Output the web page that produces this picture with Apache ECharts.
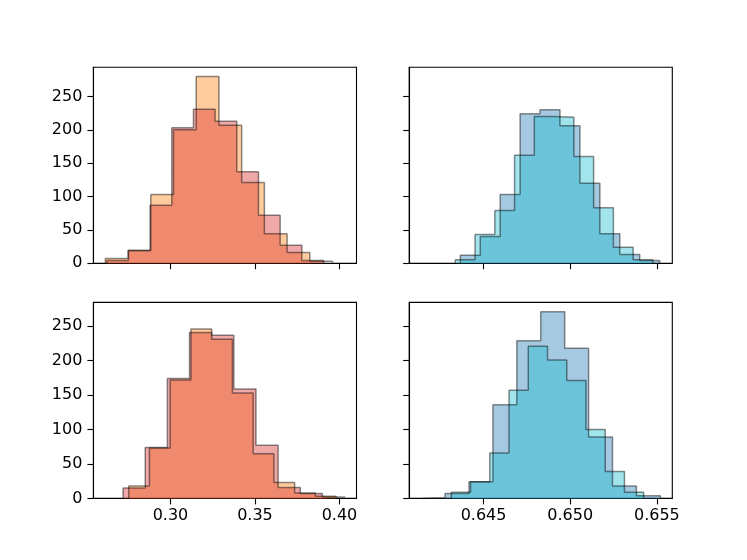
<!DOCTYPE html>
<html>
<head>
<meta charset="utf-8">
<script src="https://cdn.jsdelivr.net/npm/echarts@6/dist/echarts.min.js"></script>
<style>
  html, body { margin: 0; padding: 0; background: #fff; }
  #chart { width: 747px; height: 560px; }
</style>
</head>
<body>
<div id="chart"></div>
<script>
// tick labels
var leftXTicks = [0.30, 0.35, 0.40];
var rightXTicks = [0.645, 0.650, 0.655];
var yTicks = [0, 50, 100, 150, 200, 250];

// histograms: [first edge, last edge] and the 10 bin counts
var tlOrangeRange = [0.26145, 0.39591];
var tlOrangeCounts = [7, 19, 103, 200, 280, 207, 121, 44, 16, 3];
var tlRedRange = [0.26228, 0.39057];
var tlRedCounts = [4, 19, 87, 203, 231, 213, 137, 72, 27, 4];

var trBlueRange = [0.64366, 0.65516];
var trBlueCounts = [12, 40, 103, 224, 230, 206, 120, 44, 13, 4];
var trCyanRange = [0.64337, 0.65477];
var trCyanCounts = [5, 43, 79, 162, 220, 219, 160, 83, 24, 5];

var blOrangeRange = [0.27527, 0.39804];
var blOrangeCounts = [18, 73, 172, 246, 231, 153, 65, 23, 8, 3];
var blRedRange = [0.27195, 0.40302];
var blRedCounts = [15, 74, 174, 241, 237, 159, 77, 16, 7, 2];

var brBlueRange = [0.64140, 0.65520];
var brBlueCounts = [1, 7, 24, 136, 229, 271, 218, 89, 18, 4];
var brCyanRange = [0.64314, 0.65424];
var brCyanCounts = [9, 24, 66, 157, 221, 201, 171, 100, 39, 9];

var chart = echarts.init(document.getElementById('chart'));

// outline points of a step histogram (equal width bins)
function stepPoints(range, counts) {
    var n = counts.length;
    var w = (range[1] - range[0]) / n;
    var pts = [[range[0], 0]];
    for (var i = 0; i < n; i++) {
        pts.push([range[0] + i * w, counts[i]]);
    }
    pts.push([range[1], 0]);
    return pts;
}

// matplotlib style 5% margins
function padded(lo, hi) {
    var m = (hi - lo) * 0.05;
    return [lo - m, hi + m];
}

var leftLim = padded(Math.min(tlOrangeRange[0], tlRedRange[0], blOrangeRange[0], blRedRange[0]),
    Math.max(tlOrangeRange[1], tlRedRange[1], blOrangeRange[1], blRedRange[1]));
var rightLim = padded(Math.min(trBlueRange[0], trCyanRange[0], brBlueRange[0], brCyanRange[0]),
    Math.max(trBlueRange[1], trCyanRange[1], brBlueRange[1], brCyanRange[1]));
var topMax = Math.max.apply(null, tlOrangeCounts.concat(tlRedCounts, trBlueCounts, trCyanCounts)) * 1.05;
var bottomMax = Math.max.apply(null, blOrangeCounts.concat(blRedCounts, brBlueCounts, brCyanCounts)) * 1.05;

var font = { fontFamily: 'DejaVu Sans', fontSize: 16, color: '#000' };
var lineCol = { color: '#000', width: 1.1 };

var grids = [
    { left: 93.4, top: 67.2, width: 263.1, height: 196 },
    { left: 409.2, top: 67.2, width: 263.1, height: 196 },
    { left: 93.4, top: 302.4, width: 263.1, height: 196 },
    { left: 409.2, top: 302.4, width: 263.1, height: 196 }
].map(function (g) {
    g.show = true;
    g.borderColor = '#000';
    g.borderWidth = 1.1;
    g.backgroundColor = 'transparent';
    return g;
});

function xAxis(idx, lim, ticks, digits, showLabel) {
    return {
        type: 'value', gridIndex: idx, min: lim[0], max: lim[1],
        splitLine: { show: false },
        axisLine: { show: true, onZero: false, lineStyle: lineCol },
        axisTick: { show: true, length: 6, lineStyle: lineCol, customValues: ticks },
        axisLabel: {
            show: showLabel, margin: 9, customValues: ticks,
            fontFamily: font.fontFamily, fontSize: font.fontSize, color: font.color,
            formatter: function (v) { return v.toFixed(digits); }
        }
    };
}

function yAxis(idx, max, showLabel) {
    return {
        type: 'value', gridIndex: idx, min: 0, max: max,
        splitLine: { show: false },
        axisLine: { show: true, lineStyle: lineCol },
        axisTick: { show: true, length: 6, lineStyle: lineCol, customValues: yTicks },
        axisLabel: {
            show: showLabel, margin: 11, customValues: yTicks,
            fontFamily: font.fontFamily, fontSize: font.fontSize, color: font.color
        }
    };
}

function hist(idx, range, counts, color) {
    return {
        type: 'line', xAxisIndex: idx, yAxisIndex: idx,
        step: 'end', symbol: 'none', silent: true,
        data: stepPoints(range, counts),
        lineStyle: { color: 'rgba(0,0,0,0.45)', width: 1.5 },
        areaStyle: { color: color, opacity: 0.4, origin: 'start' }
    };
}

chart.setOption({
    animation: false,
    backgroundColor: '#fff',
    grid: grids,
    xAxis: [
        xAxis(0, leftLim, leftXTicks, 2, false),
        xAxis(1, rightLim, rightXTicks, 3, false),
        xAxis(2, leftLim, leftXTicks, 2, true),
        xAxis(3, rightLim, rightXTicks, 3, true)
    ],
    yAxis: [
        yAxis(0, topMax, true),
        yAxis(1, topMax, false),
        yAxis(2, bottomMax, true),
        yAxis(3, bottomMax, false)
    ],
    series: [
        hist(0, tlOrangeRange, tlOrangeCounts, '#ff7f0e'),
        hist(0, tlRedRange, tlRedCounts, '#d62728'),
        hist(1, trBlueRange, trBlueCounts, '#1f77b4'),
        hist(1, trCyanRange, trCyanCounts, '#17becf'),
        hist(2, blOrangeRange, blOrangeCounts, '#ff7f0e'),
        hist(2, blRedRange, blRedCounts, '#d62728'),
        hist(3, brBlueRange, brBlueCounts, '#1f77b4'),
        hist(3, brCyanRange, brCyanCounts, '#17becf')
    ]
});
</script>
</body>
</html>
